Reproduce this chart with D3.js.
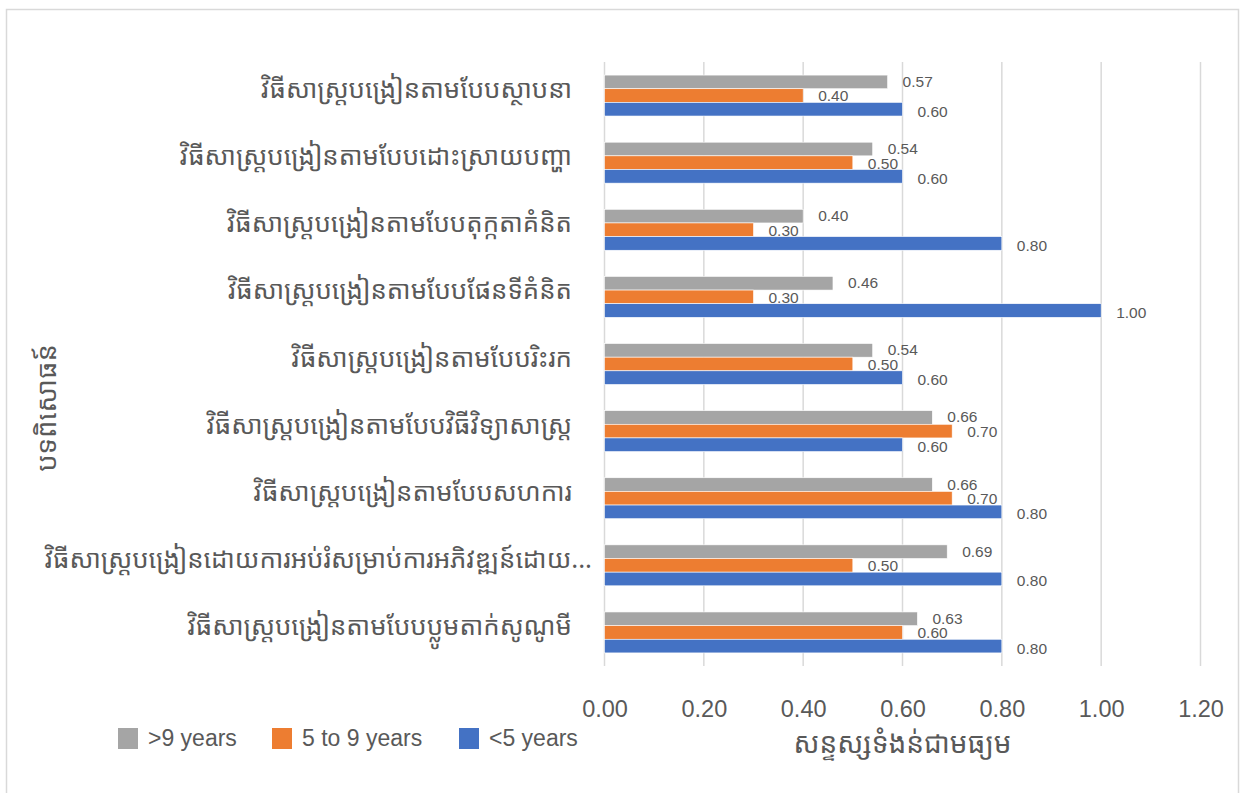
<!DOCTYPE html>
<html>
<head>
<meta charset="utf-8">
<script src="https://cdn.jsdelivr.net/npm/d3@7"></script>
<style>
  html, body { margin: 0; padding: 0; background: #fff; }
  svg { display: block; }
</style>
</head>
<body>
<svg id="chart" width="1241" height="793"></svg>
<script>
const categories = [
  "វិធីសាស្ត្របង្រៀនតាមបែបស្ថាបនា",
  "វិធីសាស្ត្របង្រៀនតាមបែបដោះស្រាយបញ្ហា",
  "វិធីសាស្ត្របង្រៀនតាមបែបតុក្កតាគំនិត",
  "វិធីសាស្ត្របង្រៀនតាមបែបផែនទីគំនិត",
  "វិធីសាស្ត្របង្រៀនតាមបែបរិះរក",
  "វិធីសាស្ត្របង្រៀនតាមបែបវិធីវិទ្យាសាស្ត្រ",
  "វិធីសាស្ត្របង្រៀនតាមបែបសហការ",
  "វិធីសាស្ត្របង្រៀនដោយការអប់រំសម្រាប់ការអភិវឌ្ឍន៍ដោយ...",
  "វិធីសាស្ត្របង្រៀនតាមបែបប្លូមតាក់សូណូមី"
];
const seriesNames = [">9 years", "5 to 9 years", "<5 years"];
const over9 =   [0.57, 0.54, 0.40, 0.46, 0.54, 0.66, 0.66, 0.69, 0.63];
const from5to9 = [0.40, 0.50, 0.30, 0.30, 0.50, 0.70, 0.70, 0.50, 0.60];
const under5 =  [0.60, 0.60, 0.80, 1.00, 0.60, 0.60, 0.80, 0.80, 0.80];
const xTicks = [0, 0.2, 0.4, 0.6, 0.8, 1.0, 1.2];
const colors = ["#A5A5A5", "#ED7D31", "#4472C4"];
const xTitle = "សន្ទស្សទំងន់ជាមធ្យម";
const yTitle = "បទពិសោធន៍";

const seriesValues = [over9, from5to9, under5];
const khmerFont = "'Noto Sans Khmer','Noto Serif Khmer','Khmer OS','Khmer OS System','Leelawadee UI',sans-serif";
const latinFont = "'Liberation Sans', Arial, Helvetica, sans-serif";

const svg = d3.select("#chart");

// outer frame
svg.append("rect")
  .attr("x", 6.5).attr("y", 9.5)
  .attr("width", 1232).attr("height", 800)
  .attr("fill", "#fff").attr("stroke", "#D9D9D9").attr("stroke-width", 1.5);

const plot = { left: 604.5, right: 1200.5, top: 62, bottom: 666 };

const x = d3.scaleLinear().domain([0, 1.2]).range([plot.left, plot.right]);
const y = d3.scaleBand().domain(d3.range(categories.length))
  .range([plot.top, plot.bottom]).paddingInner(0.39).paddingOuter(0.195);
const ySub = d3.scaleBand().domain(d3.range(seriesNames.length))
  .range([0, y.bandwidth()]);

// gridlines
svg.append("g").selectAll("line").data(xTicks).join("line")
  .attr("x1", d => x(d)).attr("x2", d => x(d))
  .attr("y1", plot.top).attr("y2", plot.bottom)
  .attr("stroke", "#D9D9D9").attr("stroke-width", 1.5);

// x axis tick labels
const xAxis = d3.axisBottom(x).tickValues(xTicks).tickFormat(d3.format(".2f")).tickSize(0).tickPadding(0);
const gx = svg.append("g").attr("transform", `translate(0, ${plot.bottom + 34})`).call(xAxis);
gx.select(".domain").remove();
gx.selectAll("text")
  .attr("font-family", latinFont).attr("font-size", 23.5).attr("fill", "#595959")
  .attr("dy", "0.71em");

// category labels
const yAxis = d3.axisLeft(y).tickFormat(i => categories[i]).tickSize(0).tickPadding(0);
const gy = svg.append("g").attr("transform", `translate(572, 0)`).call(yAxis);
gy.select(".domain").remove();
gy.selectAll("text")
  .attr("font-family", khmerFont).attr("font-size", 25.8).attr("fill", "#595959")
  .attr("dy", "0.1em")
  .attr("x", i => categories[i].endsWith("...") ? 20 : 0);

// bars
const groups = svg.append("g").selectAll("g").data(categories).join("g")
  .attr("transform", (d, i) => `translate(0, ${y(i)})`);

const labelNudge = [-0.5, 0.5, 2];
groups.each(function(cat, ci) {
  const g = d3.select(this);
  seriesValues.forEach((vals, si) => {
    g.append("rect")
      .attr("x", x(0))
      .attr("y", ySub(si))
      .attr("width", x(vals[ci]) - x(0))
      .attr("height", ySub.bandwidth())
      .attr("fill", colors[si])
      .attr("stroke", "#fff").attr("stroke-width", 0.6);
    g.append("text")
      .attr("x", x(vals[ci]) + 15)
      .attr("y", ySub(si) + ySub.bandwidth() / 2 + labelNudge[si])
      .attr("dy", "0.35em")
      .attr("font-family", latinFont).attr("font-size", 15.5)
      .attr("fill", "#595959")
      .text(d3.format(".2f")(vals[ci]));
  });
});

// x axis title
svg.append("text")
  .attr("x", (plot.left + plot.right) / 2).attr("y", 753)
  .attr("text-anchor", "middle")
  .attr("font-family", khmerFont).attr("font-size", 28).attr("fill", "#595959")
  .text(xTitle);

// y axis title
svg.append("text")
  .attr("transform", "translate(56, 408) rotate(-90)")
  .attr("text-anchor", "middle")
  .attr("font-family", khmerFont).attr("font-size", 27.5).attr("fill", "#595959")
  .text(yTitle);

// legend
const legendX = [118, 272, 459];
const lg = svg.append("g").selectAll("g").data(seriesNames).join("g")
  .attr("transform", (d, i) => `translate(${legendX[i]}, 728)`);
lg.append("rect").attr("width", 20).attr("height", 21).attr("fill", (d, i) => colors[i]);
lg.append("text")
  .attr("x", 30).attr("y", 10).attr("dy", "0.35em")
  .attr("font-family", latinFont).attr("font-size", 23).attr("fill", "#595959")
  .text(d => d);
</script>
</body>
</html>
